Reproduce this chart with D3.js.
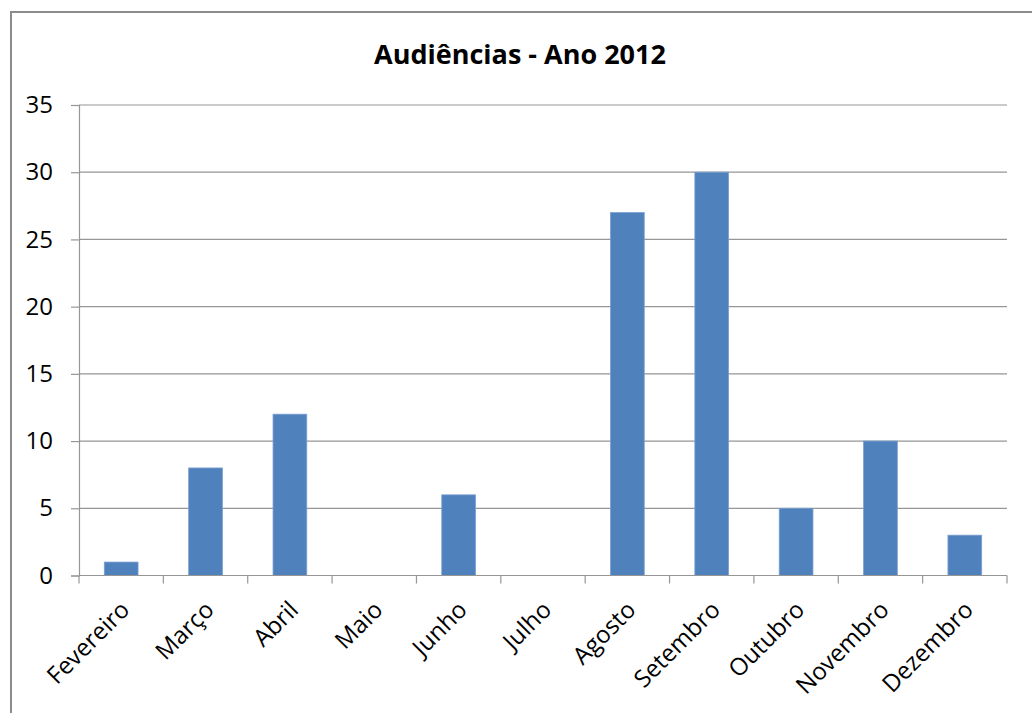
<!DOCTYPE html>
<html>
<head>
<meta charset="utf-8">
<script src="https://cdn.jsdelivr.net/npm/d3@7"></script>
<style>
  html, body { margin: 0; padding: 0; background: #fff; }
  svg { display: block; }
  text { font-family: "Open Sans", sans-serif; fill: #000; }
</style>
</head>
<body>
<svg id="chart" width="1032" height="713"></svg>
<script>
// Monthly hearing counts for 2012
const months = ["Fevereiro", "Março", "Abril", "Maio", "Junho", "Julho",
                "Agosto", "Setembro", "Outubro", "Novembro", "Dezembro"];
const audiencias = [1, 8, 12, 0, 6, 0, 27, 30, 5, 10, 3];
const yTicks = [0, 5, 10, 15, 20, 25, 30, 35];
const title = "Audiências - Ano 2012";

const svg = d3.select("#chart");
const plot = { left: 79, right: 1007, top: 105, bottom: 575.5 };

// Chart frame (runs off the right and bottom edges)
svg.append("rect")
  .attr("x", 11).attr("y", 12)
  .attr("width", 1040).attr("height", 720)
  .attr("fill", "#fff")
  .attr("stroke", "#8c8c8c")
  .attr("stroke-width", 2);

const x = d3.scaleBand()
  .domain(months)
  .range([plot.left, plot.right])
  .paddingInner(0.6)
  .paddingOuter(0.3);

const xOuter = d3.scaleBand().domain(months).range([plot.left, plot.right]);

const y = d3.scaleLinear()
  .domain([0, 35])
  .range([plot.bottom, plot.top]);

// Horizontal gridlines and y axis
const yAxis = svg.append("g")
  .attr("transform", `translate(${plot.left},0)`)
  .call(d3.axisLeft(y).tickValues(yTicks).tickSize(8).tickPadding(18));
yAxis.select(".domain").attr("stroke", "#969696").attr("stroke-width", 1.2);
yAxis.selectAll(".tick line").attr("stroke", "#969696").attr("stroke-width", 1.2);
yAxis.selectAll(".tick text")
  .attr("font-size", 24)
  .attr("font-family", "Open Sans, sans-serif")
  .attr("fill", "#000");

svg.append("g")
  .selectAll("line")
  .data(yTicks.filter(d => d > 0))
  .join("line")
  .attr("x1", plot.left).attr("x2", plot.right)
  .attr("y1", d => y(d)).attr("y2", d => y(d))
  .attr("stroke", "#969696")
  .attr("stroke-width", 1.2);

// Bars
svg.append("g")
  .selectAll("rect")
  .data(months.map((m, i) => ({ m, v: audiencias[i] })))
  .join("rect")
  .attr("x", d => x(d.m))
  .attr("y", d => y(d.v))
  .attr("width", x.bandwidth())
  .attr("height", d => y(0) - y(d.v))
  .attr("fill", "#4f81bd")
  .attr("stroke", "#7aa0d0")
  .attr("stroke-width", d => d.v > 0 ? 0.8 : 0);

// X axis with ticks between categories
const xg = svg.append("g");
xg.append("line")
  .attr("x1", plot.left).attr("x2", plot.right)
  .attr("y1", plot.bottom).attr("y2", plot.bottom)
  .attr("stroke", "#969696").attr("stroke-width", 1.2);
const boundaries = months.map(m => xOuter(m)).concat([plot.right]);
xg.selectAll("line.tk")
  .data(boundaries)
  .join("line")
  .attr("class", "tk")
  .attr("x1", d => d).attr("x2", d => d)
  .attr("y1", plot.bottom).attr("y2", plot.bottom + 8)
  .attr("stroke", "#969696").attr("stroke-width", 1.2);

xg.selectAll("text")
  .data(months)
  .join("text")
  .attr("text-anchor", "end")
  .attr("font-size", 24)
  .attr("transform", d => `translate(${xOuter(d) + xOuter.bandwidth() / 2 - 2},${plot.bottom + 24}) rotate(-45)`)
  .attr("dy", "0.7em")
  .text(d => d);

// Title
svg.append("text")
  .attr("x", 520)
  .attr("y", 64)
  .attr("text-anchor", "middle")
  .attr("font-size", 27)
  .attr("font-weight", "bold")
  .text(title);
</script>
</body>
</html>
